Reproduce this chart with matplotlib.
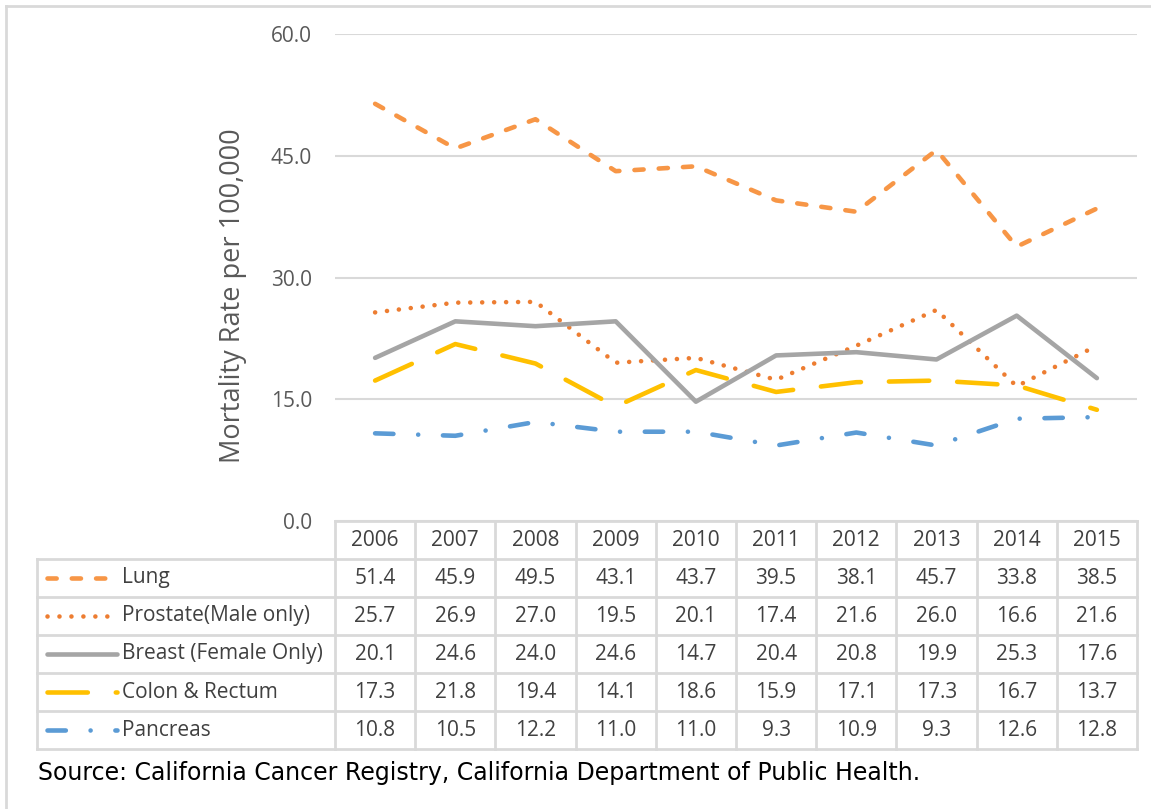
import matplotlib
matplotlib.use("Agg")
import matplotlib.pyplot as plt
from matplotlib.lines import Line2D

plt.rcParams['font.family'] = ['Open Sans', 'DejaVu Sans']

years = ["2006", "2007", "2008", "2009", "2010", "2011", "2012", "2013", "2014", "2015"]
series_names = ["Lung", "Prostate(Male only)", "Breast (Female Only)", "Colon & Rectum", "Pancreas"]
lung = [51.4, 45.9, 49.5, 43.1, 43.7, 39.5, 38.1, 45.7, 33.8, 38.5]
prostate = [25.7, 26.9, 27.0, 19.5, 20.1, 17.4, 21.6, 26.0, 16.6, 21.6]
breast = [20.1, 24.6, 24.0, 24.6, 14.7, 20.4, 20.8, 19.9, 25.3, 17.6]
colon = [17.3, 21.8, 19.4, 14.1, 18.6, 15.9, 17.1, 17.3, 16.7, 13.7]
pancreas = [10.8, 10.5, 12.2, 11.0, 11.0, 9.3, 10.9, 9.3, 12.6, 12.8]
yticks = [0, 15, 30, 45, 60]

W, H = 1151, 809
fig = plt.figure(figsize=(W / 100, H / 100), dpi=100)

def fx(px):
    return px / W

def fy(py):
    return 1 - py / H

FS = 15
L, R, T, B = 335, 1137, 34, 521
ax = fig.add_axes([fx(L), fy(B), fx(R - L), (B - T) / H])
ax.set_xlim(-0.5, len(years) - 0.5)
ax.set_ylim(0, 60)
for s in ax.spines.values():
    s.set_visible(False)
ax.set_xticks([])
ax.set_yticks(yticks)
ax.set_yticklabels([f"{v:.1f}" for v in yticks])
ax.tick_params(axis='y', length=0, pad=16.5, labelsize=FS, labelcolor='#595959')
ax.yaxis.grid(True, color='#D9D9D9', lw=1.5)
ax.set_axisbelow(True)

lw = 3.3
styles = [
    dict(color='#F79646', dashes=(2.0, 3.3)),
    dict(color='#ED7D31', dashes=(0.01, 2.6)),
    dict(color='#A5A5A5', dashes=None),
    dict(color='#FFC000', dashes=(8.8, 6.1)),
    dict(color='#5B9BD5', dashes=(4.0, 5.4, 0.01, 5.4)),
]
data = [lung, prostate, breast, colon, pancreas]
x = list(range(len(years)))
for vals, st in zip(data, styles):
    kw = dict(color=st['color'], lw=lw, solid_capstyle='round', dash_capstyle='round',
              solid_joinstyle='round', dash_joinstyle='round')
    line, = ax.plot(x, vals, **kw)
    if st['dashes'] is not None:
        line.set_dashes(st['dashes'])

fig.text(fx(233), fy(296), "Mortality Rate per 100,000", rotation=90, ha='center', va='center',
         fontsize=19.5, color='#595959')

# Data table
grid_c = '#D9D9D9'
tl = 37
row_h = 38
top = B
col_w = (R - L) / len(years)

def hline(y, x0, x1):
    fig.add_artist(Line2D([fx(x0), fx(x1)], [fy(y), fy(y)], color=grid_c, lw=2))

def vline(xp, y0, y1):
    fig.add_artist(Line2D([fx(xp), fx(xp)], [fy(y0), fy(y1)], color=grid_c, lw=2))

nrows = len(series_names)
bottom = top + row_h * (nrows + 1)
hline(top, L, R)
for i in range(1, nrows + 2):
    hline(top + row_h * i, tl, R)
vline(tl, top + row_h, bottom)
for j in range(len(years) + 1):
    vline(L + col_w * j, top, bottom)

tcol = '#404040'
for j, yr in enumerate(years):
    fig.text(fx(L + col_w * (j + 0.5)), fy(top + row_h * 0.5), yr, ha='center', va='center',
             fontsize=FS, color=tcol)
for i, (name, vals, st) in enumerate(zip(series_names, data, styles)):
    yc = top + row_h * (i + 1.5)
    kw = dict(color=st['color'], lw=lw, solid_capstyle='round', dash_capstyle='round')
    ln = Line2D([fx(47), fx(117)], [fy(yc), fy(yc)], **kw)
    if st['dashes'] is not None:
        ln.set_dashes(st['dashes'])
    fig.add_artist(ln)
    fig.text(fx(122), fy(yc), name, ha='left', va='center', fontsize=FS, color=tcol)
    for j, v in enumerate(vals):
        fig.text(fx(L + col_w * (j + 0.5)), fy(yc), f"{v:.1f}", ha='center', va='center',
                 fontsize=FS, color=tcol)

# Source note
fig.text(fx(38), fy(773), "Source: California Cancer Registry, California Department of Public Health.",
         ha='left', va='center', fontsize=17, color='#000000', family=['DejaVu Sans'])

# Outer frame (top and left edges visible)
fig.add_artist(Line2D([fx(6), fx(W)], [fy(6), fy(6)], color=grid_c, lw=2))
fig.add_artist(Line2D([fx(6), fx(6)], [fy(6), fy(H)], color=grid_c, lw=2))

fig.savefig("out.png", dpi=100)
